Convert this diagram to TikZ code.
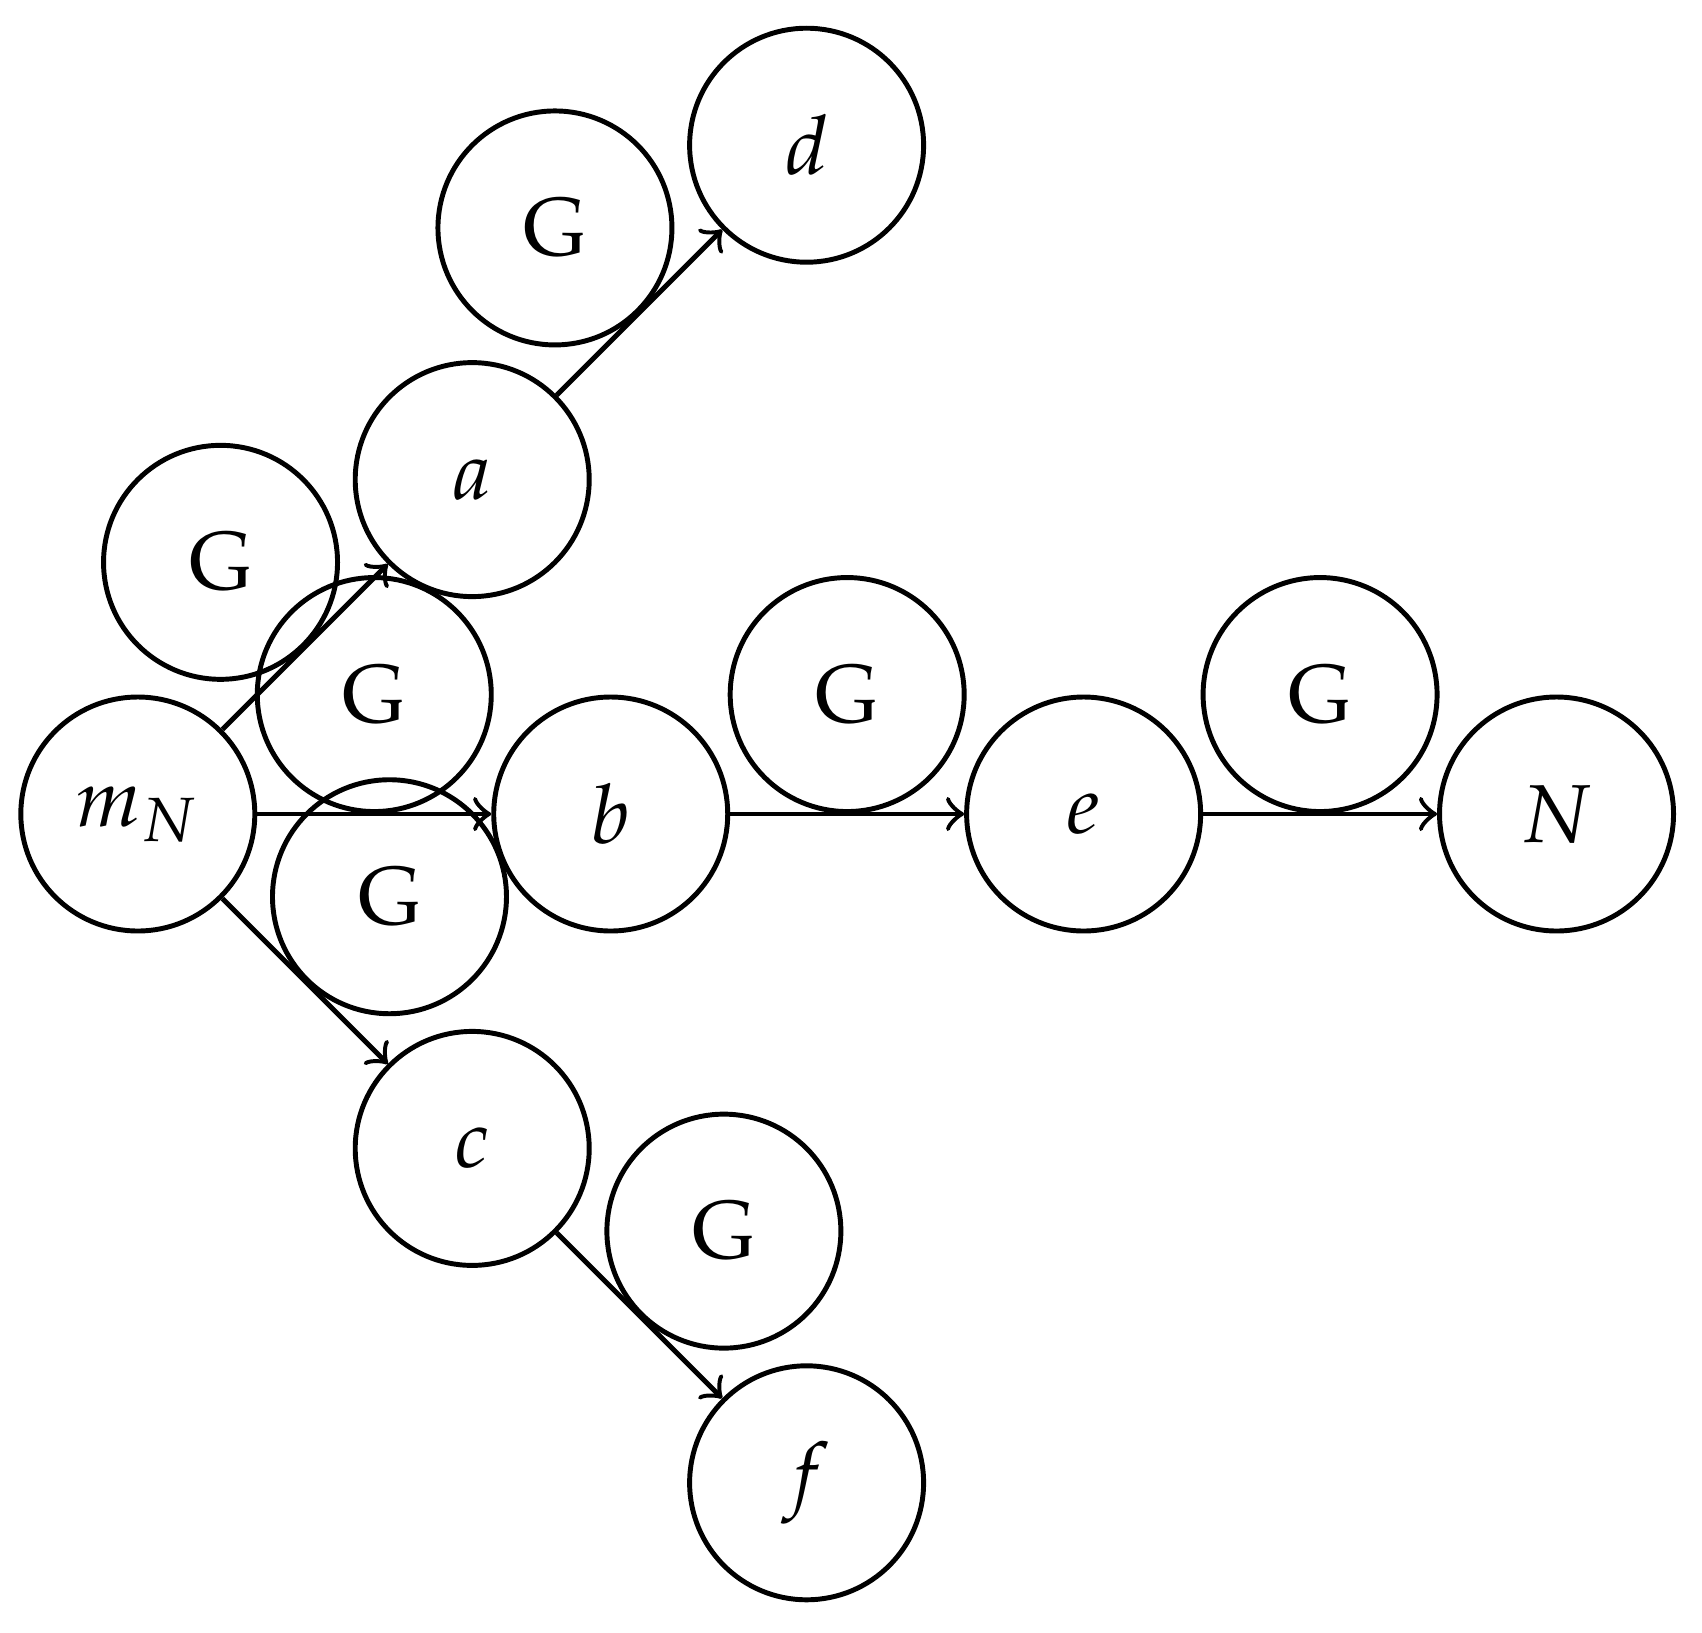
\documentclass[tikz,border=0pt]{standalone}
\usepackage[T1]{fontenc}
\usepackage{mathpazo}
\usepackage{tikz}
\usetikzlibrary{positioning}

\begin{document}
\begin{tikzpicture}[
 node distance=1cm,
 semithick,
 state/.style={circle,draw,minimum size=1cm,inner sep=0pt},
 gate/.style={state,auto},
 arrow/.style={->}
]
\useasboundingbox (-0.589,-3.498) rectangle (6.685,3.479);
\node[state] (mN) {$m_N$};
\node[state,above right=of mN] (a) {$a$};
\node[state,right=of mN] (b) {$b$};
\node[state,below right=of mN] (c) {$c$};
\node[state,above right=of a] (d) {$d$};
\node[state,right=of b] (e) {$e$};
\node[state,below right=of c] (f) {$f$};
\node[state,right=of e] (N) {$N$};
\draw[arrow] (mN) -- node[gate] (g1) {G} (a);
\draw[arrow] (mN) -- node[gate] (g2) {G} (b);
\draw[arrow] (mN) -- node[gate] (g3) {G} (c);
\draw[arrow] (a) -- node[gate] (g4) {G} (d);
\draw[arrow] (b) -- node[gate] (g5) {G} (e);
\draw[arrow] (c) -- node[gate] (g6) {G} (f);
\draw[arrow] (e) -- node[gate] (g7) {G} (N);
\end{tikzpicture}
\end{document}
